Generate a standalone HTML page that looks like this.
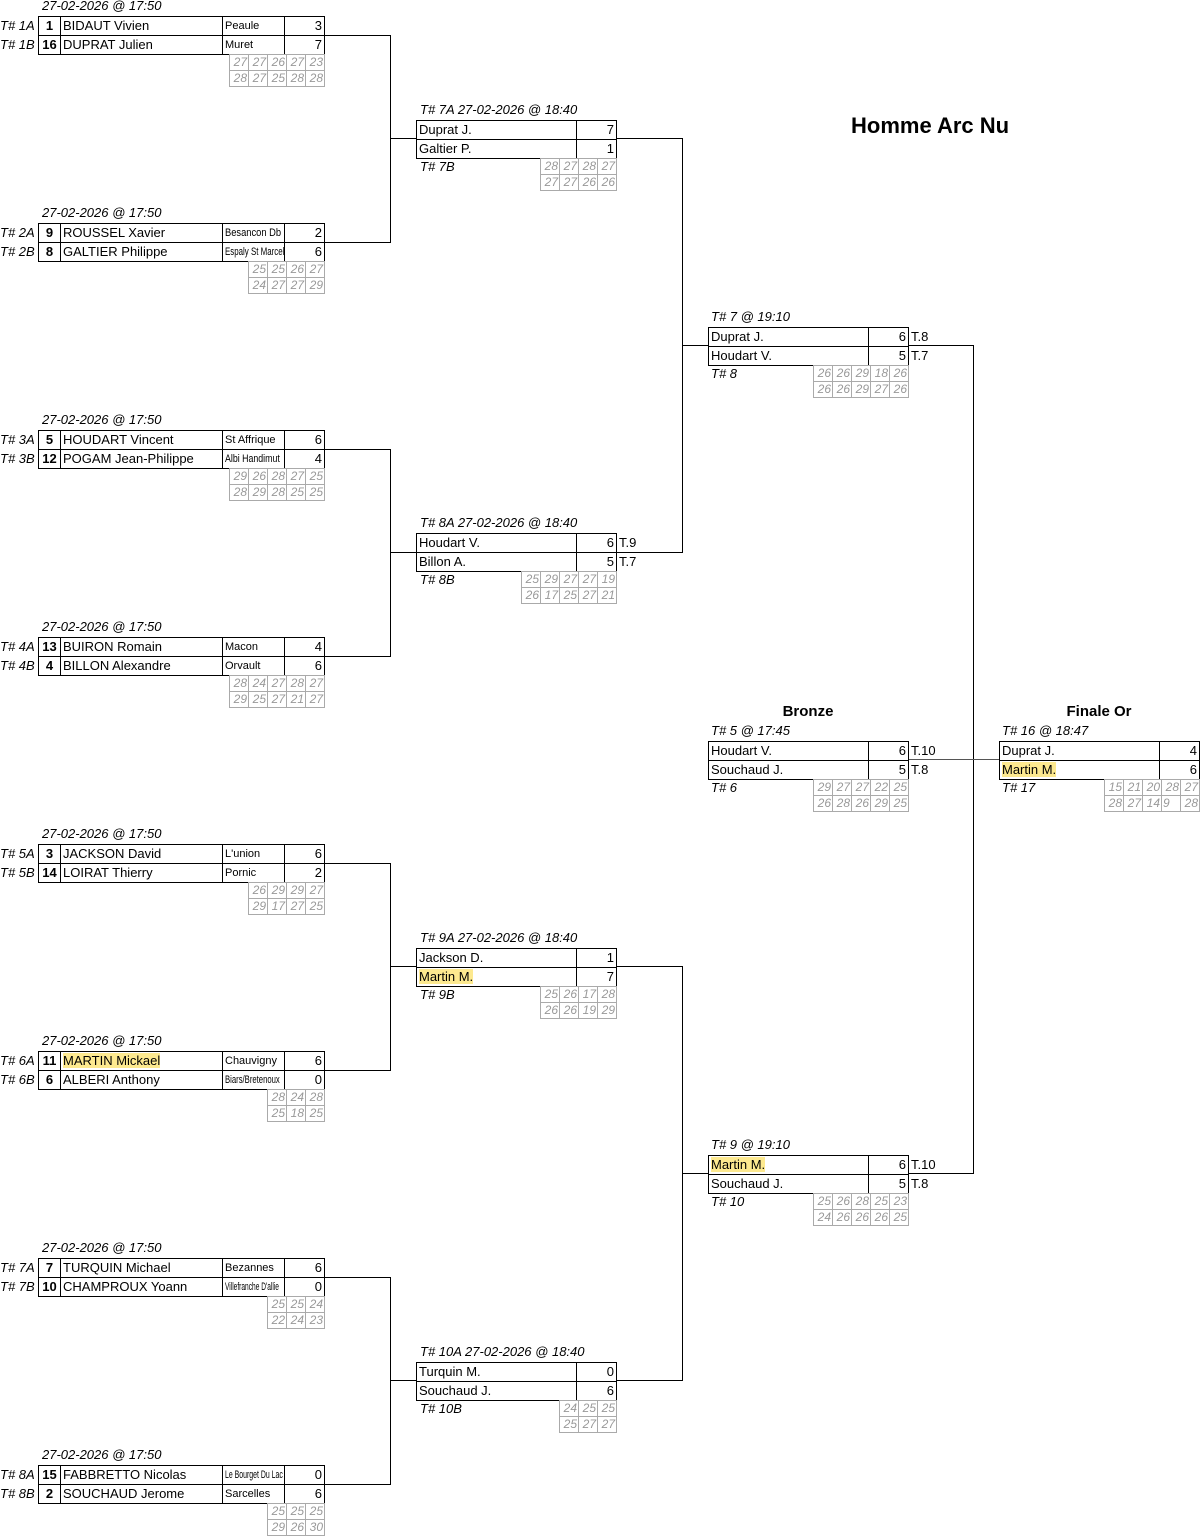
<!DOCTYPE html>
<html><head><meta charset="utf-8">
<style>
body{margin:0;width:1200px;height:1535px;position:relative;background:#fff;font-family:"Liberation Sans",sans-serif;color:#000;overflow:hidden}
.a{position:absolute}
.l{position:absolute;background:#000}
.i{font-style:italic;font-size:13px;position:absolute;white-space:nowrap;line-height:15px}
table{position:absolute;border-collapse:collapse;table-layout:fixed}
table.m td{border:1px solid #000;height:18px;padding:0 2px;font-size:13px;white-space:nowrap;overflow:hidden;line-height:18px}
table.m{border:1.5px solid #000}
td.s{text-align:center;font-weight:bold}
td.c{font-size:11px!important}
td.c span{display:inline-block;transform:scaleX(0.72);transform-origin:left center;font-size:11px}
td.n{text-align:right}
table.g td{border:1px solid #aaa;width:16px;height:15px;padding:0 1px;font-size:12px;font-style:italic;color:#999;text-align:right;line-height:15px}
.h{background:#fde98f}
.t{position:absolute;font-size:13px;line-height:18px}
.ti{position:absolute;font-weight:bold;font-size:15px;text-align:center}
</style></head><body>

<div class="a" style="left:851px;top:113px;font-weight:bold;font-size:22px">Homme Arc Nu</div>

<div class="l" style="left:324px;top:35px;width:66px;height:1px"></div>
<div class="l" style="left:324px;top:242px;width:66px;height:1px"></div>
<div class="l" style="left:390px;top:35px;width:1px;height:208px"></div>
<div class="l" style="left:390px;top:138px;width:26px;height:1px"></div>

<div class="l" style="left:324px;top:449px;width:66px;height:1px"></div>
<div class="l" style="left:324px;top:656px;width:66px;height:1px"></div>
<div class="l" style="left:390px;top:449px;width:1px;height:208px"></div>
<div class="l" style="left:390px;top:552px;width:26px;height:1px"></div>

<div class="l" style="left:324px;top:863px;width:66px;height:1px"></div>
<div class="l" style="left:324px;top:1070px;width:66px;height:1px"></div>
<div class="l" style="left:390px;top:863px;width:1px;height:208px"></div>
<div class="l" style="left:390px;top:966px;width:26px;height:1px"></div>

<div class="l" style="left:324px;top:1277px;width:66px;height:1px"></div>
<div class="l" style="left:324px;top:1484px;width:66px;height:1px"></div>
<div class="l" style="left:390px;top:1277px;width:1px;height:208px"></div>
<div class="l" style="left:390px;top:1380px;width:26px;height:1px"></div>

<div class="l" style="left:616px;top:138px;width:66px;height:1px"></div>
<div class="l" style="left:616px;top:552px;width:66px;height:1px"></div>
<div class="l" style="left:682px;top:138px;width:1px;height:415px"></div>
<div class="l" style="left:682px;top:345px;width:26px;height:1px"></div>

<div class="l" style="left:616px;top:966px;width:66px;height:1px"></div>
<div class="l" style="left:616px;top:1380px;width:66px;height:1px"></div>
<div class="l" style="left:682px;top:966px;width:1px;height:415px"></div>
<div class="l" style="left:682px;top:1173px;width:26px;height:1px"></div>

<div class="l" style="left:908px;top:345px;width:65px;height:1px"></div>
<div class="l" style="left:908px;top:1173px;width:65px;height:1px"></div>
<div class="l" style="left:973px;top:345px;width:1px;height:829px"></div>
<div class="l" style="left:908px;top:759px;width:91px;height:1px;background:#555"></div>

<!-- M1 -->
<div class="i" style="left:42px;top:-2px">27-02-2026 @ 17:50</div>
<div class="i" style="left:0;top:18px">T# 1A</div><div class="i" style="left:0;top:37px">T# 1B</div>
<table class="m" style="left:38px;top:16px;width:287px"><colgroup><col style="width:22px"><col style="width:162px"><col style="width:62px"><col style="width:40px"></colgroup>
<tr><td class="s">1</td><td>BIDAUT Vivien</td><td class="c">Peaule</td><td class="n">3</td></tr>
<tr><td class="s">16</td><td>DUPRAT Julien</td><td class="c">Muret</td><td class="n">7</td></tr></table>
<table class="g" style="left:229px;top:54px"><tr><td>27</td><td>27</td><td>26</td><td>27</td><td>23</td></tr><tr><td>28</td><td>27</td><td>25</td><td>28</td><td>28</td></tr></table>

<!-- M2 -->
<div class="i" style="left:42px;top:205px">27-02-2026 @ 17:50</div>
<div class="i" style="left:0;top:225px">T# 2A</div><div class="i" style="left:0;top:244px">T# 2B</div>
<table class="m" style="left:38px;top:223px;width:287px"><colgroup><col style="width:22px"><col style="width:162px"><col style="width:62px"><col style="width:40px"></colgroup>
<tr><td class="s">9</td><td>ROUSSEL Xavier</td><td class="c"><span style="transform:scaleX(0.85)">Besancon Db</span></td><td class="n">2</td></tr>
<tr><td class="s">8</td><td>GALTIER Philippe</td><td class="c"><span>Espaly St Marcel</span></td><td class="n">6</td></tr></table>
<table class="g" style="left:248px;top:261px"><tr><td>25</td><td>25</td><td>26</td><td>27</td></tr><tr><td>24</td><td>27</td><td>27</td><td>29</td></tr></table>

<!-- M3 -->
<div class="i" style="left:42px;top:412px">27-02-2026 @ 17:50</div>
<div class="i" style="left:0;top:432px">T# 3A</div><div class="i" style="left:0;top:451px">T# 3B</div>
<table class="m" style="left:38px;top:430px;width:287px"><colgroup><col style="width:22px"><col style="width:162px"><col style="width:62px"><col style="width:40px"></colgroup>
<tr><td class="s">5</td><td>HOUDART Vincent</td><td class="c">St Affrique</td><td class="n">6</td></tr>
<tr><td class="s">12</td><td>POGAM Jean-Philippe</td><td class="c"><span style="transform:scaleX(0.8)">Albi Handimut</span></td><td class="n">4</td></tr></table>
<table class="g" style="left:229px;top:468px"><tr><td>29</td><td>26</td><td>28</td><td>27</td><td>25</td></tr><tr><td>28</td><td>29</td><td>28</td><td>25</td><td>25</td></tr></table>

<!-- M4 -->
<div class="i" style="left:42px;top:619px">27-02-2026 @ 17:50</div>
<div class="i" style="left:0;top:639px">T# 4A</div><div class="i" style="left:0;top:658px">T# 4B</div>
<table class="m" style="left:38px;top:637px;width:287px"><colgroup><col style="width:22px"><col style="width:162px"><col style="width:62px"><col style="width:40px"></colgroup>
<tr><td class="s">13</td><td>BUIRON Romain</td><td class="c">Macon</td><td class="n">4</td></tr>
<tr><td class="s">4</td><td>BILLON Alexandre</td><td class="c">Orvault</td><td class="n">6</td></tr></table>
<table class="g" style="left:229px;top:675px"><tr><td>28</td><td>24</td><td>27</td><td>28</td><td>27</td></tr><tr><td>29</td><td>25</td><td>27</td><td>21</td><td>27</td></tr></table>

<!-- M5 -->
<div class="i" style="left:42px;top:826px">27-02-2026 @ 17:50</div>
<div class="i" style="left:0;top:846px">T# 5A</div><div class="i" style="left:0;top:865px">T# 5B</div>
<table class="m" style="left:38px;top:844px;width:287px"><colgroup><col style="width:22px"><col style="width:162px"><col style="width:62px"><col style="width:40px"></colgroup>
<tr><td class="s">3</td><td>JACKSON David</td><td class="c">L'union</td><td class="n">6</td></tr>
<tr><td class="s">14</td><td>LOIRAT Thierry</td><td class="c">Pornic</td><td class="n">2</td></tr></table>
<table class="g" style="left:248px;top:882px"><tr><td>26</td><td>29</td><td>29</td><td>27</td></tr><tr><td>29</td><td>17</td><td>27</td><td>25</td></tr></table>

<!-- M6 -->
<div class="i" style="left:42px;top:1033px">27-02-2026 @ 17:50</div>
<div class="i" style="left:0;top:1053px">T# 6A</div><div class="i" style="left:0;top:1072px">T# 6B</div>
<table class="m" style="left:38px;top:1051px;width:287px"><colgroup><col style="width:22px"><col style="width:162px"><col style="width:62px"><col style="width:40px"></colgroup>
<tr><td class="s">11</td><td><span class="h">MARTIN Mickael</span></td><td class="c">Chauvigny</td><td class="n">6</td></tr>
<tr><td class="s">6</td><td>ALBERI Anthony</td><td class="c"><span style="transform:scaleX(0.7)">Biars/Bretenoux</span></td><td class="n">0</td></tr></table>
<table class="g" style="left:267px;top:1089px"><tr><td>28</td><td>24</td><td>28</td></tr><tr><td>25</td><td>18</td><td>25</td></tr></table>

<!-- M7 -->
<div class="i" style="left:42px;top:1240px">27-02-2026 @ 17:50</div>
<div class="i" style="left:0;top:1260px">T# 7A</div><div class="i" style="left:0;top:1279px">T# 7B</div>
<table class="m" style="left:38px;top:1258px;width:287px"><colgroup><col style="width:22px"><col style="width:162px"><col style="width:62px"><col style="width:40px"></colgroup>
<tr><td class="s">7</td><td>TURQUIN Michael</td><td class="c">Bezannes</td><td class="n">6</td></tr>
<tr><td class="s">10</td><td>CHAMPROUX Yoann</td><td class="c"><span style="transform:scaleX(0.6)">Villefranche D'allie</span></td><td class="n">0</td></tr></table>
<table class="g" style="left:267px;top:1296px"><tr><td>25</td><td>25</td><td>24</td></tr><tr><td>22</td><td>24</td><td>23</td></tr></table>

<!-- M8 -->
<div class="i" style="left:42px;top:1447px">27-02-2026 @ 17:50</div>
<div class="i" style="left:0;top:1467px">T# 8A</div><div class="i" style="left:0;top:1486px">T# 8B</div>
<table class="m" style="left:38px;top:1465px;width:287px"><colgroup><col style="width:22px"><col style="width:162px"><col style="width:62px"><col style="width:40px"></colgroup>
<tr><td class="s">15</td><td>FABBRETTO Nicolas</td><td class="c"><span style="transform:scaleX(0.63)">Le Bourget Du Lac</span></td><td class="n">0</td></tr>
<tr><td class="s">2</td><td>SOUCHAUD Jerome</td><td class="c">Sarcelles</td><td class="n">6</td></tr></table>
<table class="g" style="left:267px;top:1503px"><tr><td>25</td><td>25</td><td>25</td></tr><tr><td>29</td><td>26</td><td>30</td></tr></table>

<!-- ROUND 2 -->
<div class="i" style="left:420px;top:102px">T# 7A 27-02-2026 @ 18:40</div>
<table class="m" style="left:416px;top:120px;width:201px"><colgroup><col style="width:160px"><col style="width:40px"></colgroup>
<tr><td>Duprat J.</td><td class="n">7</td></tr><tr><td>Galtier P.</td><td class="n">1</td></tr></table>
<div class="i" style="left:420px;top:159px">T# 7B</div>
<table class="g" style="left:540px;top:158px"><tr><td>28</td><td>27</td><td>28</td><td>27</td></tr><tr><td>27</td><td>27</td><td>26</td><td>26</td></tr></table>

<div class="i" style="left:420px;top:515px">T# 8A 27-02-2026 @ 18:40</div>
<table class="m" style="left:416px;top:533px;width:201px"><colgroup><col style="width:160px"><col style="width:40px"></colgroup>
<tr><td>Houdart V.</td><td class="n">6</td></tr><tr><td>Billon A.</td><td class="n">5</td></tr></table>
<div class="t" style="left:619px;top:534px">T.9</div><div class="t" style="left:619px;top:553px">T.7</div>
<div class="i" style="left:420px;top:572px">T# 8B</div>
<table class="g" style="left:521px;top:571px"><tr><td>25</td><td>29</td><td>27</td><td>27</td><td>19</td></tr><tr><td>26</td><td>17</td><td>25</td><td>27</td><td>21</td></tr></table>

<div class="i" style="left:420px;top:930px">T# 9A 27-02-2026 @ 18:40</div>
<table class="m" style="left:416px;top:948px;width:201px"><colgroup><col style="width:160px"><col style="width:40px"></colgroup>
<tr><td>Jackson D.</td><td class="n">1</td></tr><tr><td><span class="h">Martin M.</span></td><td class="n">7</td></tr></table>
<div class="i" style="left:420px;top:987px">T# 9B</div>
<table class="g" style="left:540px;top:986px"><tr><td>25</td><td>26</td><td>17</td><td>28</td></tr><tr><td>26</td><td>26</td><td>19</td><td>29</td></tr></table>

<div class="i" style="left:420px;top:1344px">T# 10A 27-02-2026 @ 18:40</div>
<table class="m" style="left:416px;top:1362px;width:201px"><colgroup><col style="width:160px"><col style="width:40px"></colgroup>
<tr><td>Turquin M.</td><td class="n">0</td></tr><tr><td>Souchaud J.</td><td class="n">6</td></tr></table>
<div class="i" style="left:420px;top:1401px">T# 10B</div>
<table class="g" style="left:559px;top:1400px"><tr><td>24</td><td>25</td><td>25</td></tr><tr><td>25</td><td>27</td><td>27</td></tr></table>

<!-- ROUND 3 -->
<div class="i" style="left:711px;top:309px">T# 7 @ 19:10</div>
<table class="m" style="left:708px;top:327px;width:201px"><colgroup><col style="width:160px"><col style="width:40px"></colgroup>
<tr><td>Duprat J.</td><td class="n">6</td></tr><tr><td>Houdart V.</td><td class="n">5</td></tr></table>
<div class="t" style="left:911px;top:328px">T.8</div><div class="t" style="left:911px;top:347px">T.7</div>
<div class="i" style="left:711px;top:366px">T# 8</div>
<table class="g" style="left:813px;top:365px"><tr><td>26</td><td>26</td><td>29</td><td>18</td><td>26</td></tr><tr><td>26</td><td>26</td><td>29</td><td>27</td><td>26</td></tr></table>

<div class="i" style="left:711px;top:1137px">T# 9 @ 19:10</div>
<table class="m" style="left:708px;top:1155px;width:201px"><colgroup><col style="width:160px"><col style="width:40px"></colgroup>
<tr><td><span class="h">Martin M.</span></td><td class="n">6</td></tr><tr><td>Souchaud J.</td><td class="n">5</td></tr></table>
<div class="t" style="left:911px;top:1156px">T.10</div><div class="t" style="left:911px;top:1175px">T.8</div>
<div class="i" style="left:711px;top:1194px">T# 10</div>
<table class="g" style="left:813px;top:1193px"><tr><td>25</td><td>26</td><td>28</td><td>25</td><td>23</td></tr><tr><td>24</td><td>26</td><td>26</td><td>26</td><td>25</td></tr></table>

<!-- Bronze -->
<div class="ti" style="left:708px;top:703px;width:200px">Bronze</div>
<div class="i" style="left:711px;top:723px">T# 5 @ 17:45</div>
<table class="m" style="left:708px;top:741px;width:201px"><colgroup><col style="width:160px"><col style="width:40px"></colgroup>
<tr><td>Houdart V.</td><td class="n">6</td></tr><tr><td>Souchaud J.</td><td class="n">5</td></tr></table>
<div class="t" style="left:911px;top:742px">T.10</div><div class="t" style="left:911px;top:761px">T.8</div>
<div class="i" style="left:711px;top:780px">T# 6</div>
<table class="g" style="left:813px;top:779px"><tr><td>29</td><td>27</td><td>27</td><td>22</td><td>25</td></tr><tr><td>26</td><td>28</td><td>26</td><td>29</td><td>25</td></tr></table>

<!-- Final -->
<div class="ti" style="left:999px;top:703px;width:200px">Finale Or</div>
<div class="i" style="left:1002px;top:723px">T# 16 @ 18:47</div>
<table class="m" style="left:999px;top:741px;width:201px"><colgroup><col style="width:160px"><col style="width:40px"></colgroup>
<tr><td>Duprat J.</td><td class="n">4</td></tr><tr><td><span class="h">Martin M.</span></td><td class="n">6</td></tr></table>
<div class="i" style="left:1002px;top:780px">T# 17</div>
<table class="g" style="left:1104px;top:779px"><tr><td>15</td><td>21</td><td>20</td><td>28</td><td>27</td></tr><tr><td>28</td><td>27</td><td>14</td><td style="text-align:left">9</td><td>28</td></tr></table>

</body></html>
